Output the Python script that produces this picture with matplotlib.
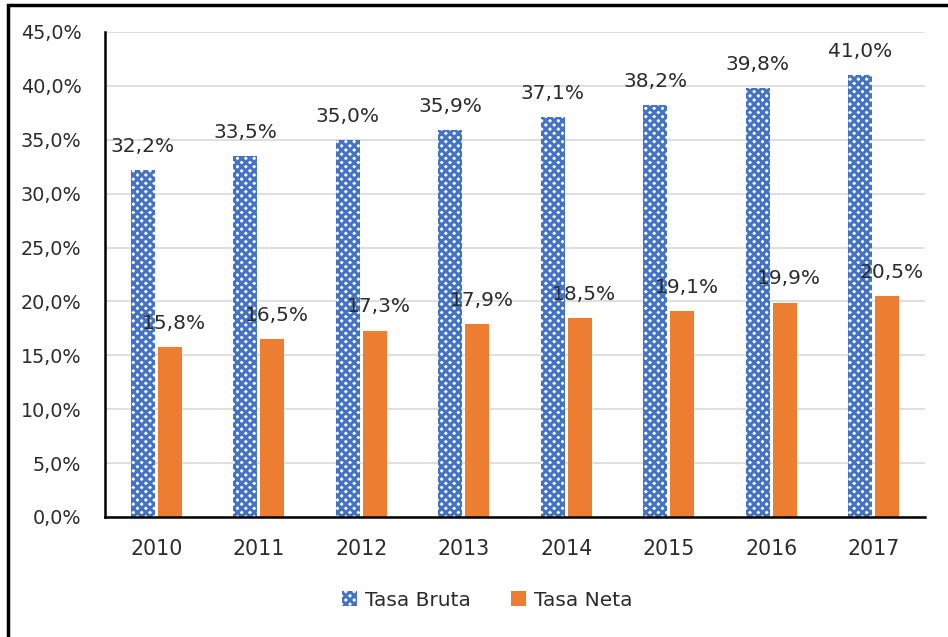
import numpy as np
import matplotlib.pyplot as plt
from matplotlib.patches import Rectangle
from matplotlib.ticker import FuncFormatter

years = ['2010', '2011', '2012', '2013', '2014', '2015', '2016', '2017']
tasa_bruta = [32.2, 33.5, 35.0, 35.9, 37.1, 38.2, 39.8, 41.0]
tasa_neta = [15.8, 16.5, 17.3, 17.9, 18.5, 19.1, 19.9, 20.5]

BLUE = '#4472C4'
ORANGE = '#ED7D31'
TXT = '#2b2b2b'

plt.rcParams['font.family'] = ['DejaVu Sans']
plt.rcParams['hatch.linewidth'] = 2.2

def pct(v):
    return f"{v:.1f}".replace('.', ',') + '%'

fig = plt.figure(figsize=(9.48, 6.37), dpi=100)
ax = fig.add_axes([105/948, 1-517/637, 820/948, 485/637])

x = np.arange(len(years))
w = 0.235
gap = 0.03
xb = x - w/2 - gap/2
xn = x + w/2 + gap/2

bb = ax.bar(xb, tasa_bruta, w, color='white', edgecolor=BLUE, hatch='xxxx', linewidth=0,
            label='Tasa Bruta', zorder=2)
bn = ax.bar(xn, tasa_neta, w, color=ORANGE, linewidth=0, label='Tasa Neta', zorder=2)

for xi, v in zip(xb, tasa_bruta):
    ax.annotate(pct(v), (xi, v), xytext=(0, 13), textcoords='offset points',
                ha='center', va='baseline', fontsize=14.5, color=TXT)
for xi, v in zip(xn, tasa_neta):
    ax.annotate(pct(v), (xi, v), xytext=(3, 13), textcoords='offset points',
                ha='center', va='baseline', fontsize=14.5, color=TXT)

ax.set_ylim(0, 45)
ax.set_xlim(-0.5, len(years) - 0.5)
ax.set_yticks(np.arange(0, 46, 5))
ax.yaxis.set_major_formatter(FuncFormatter(lambda v, p: pct(v)))
ax.set_xticks(x)
ax.set_xticklabels(years)
ax.tick_params(axis='both', length=0, colors=TXT)
ax.tick_params(axis='y', labelsize=13.8, pad=17)
ax.tick_params(axis='x', labelsize=14.8, pad=16)
ax.yaxis.grid(True, color='#D9D9D9', linewidth=1.2, zorder=0)
ax.set_axisbelow(True)
for s in ['top', 'right']:
    ax.spines[s].set_visible(False)
ax.spines['left'].set_linewidth(1.8)
ax.spines['bottom'].set_linewidth(1.8)

leg = fig.legend(handles=[bb, bn], loc='center', bbox_to_anchor=(487/948, 1-600/637), ncol=2,
                 frameon=False, fontsize=14.5, handlelength=0.75, handleheight=0.75,
                 columnspacing=2.0, handletextpad=0.4)
for t in leg.get_texts():
    t.set_color(TXT)

fig.patches.append(Rectangle((8/948, -0.02), 1.2, 1 - 5/637 + 0.02, transform=fig.transFigure,
                             fill=False, edgecolor='black', linewidth=2.5))

fig.savefig('out.png', dpi=100)
